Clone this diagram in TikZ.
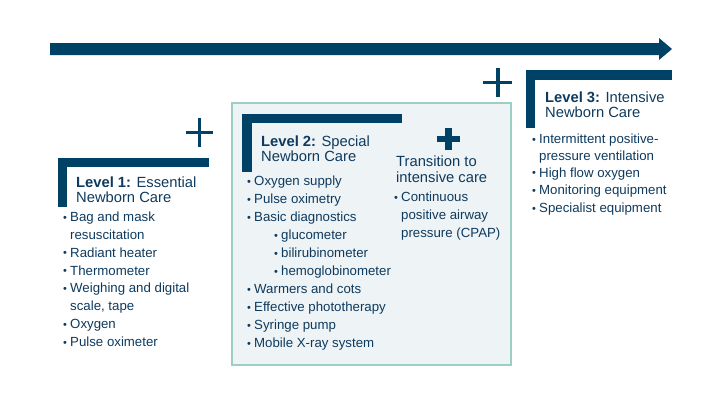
\documentclass[tikz,border=0pt]{standalone}
\usepackage{fontspec}
\setmainfont{Liberation Sans}
\definecolor{navy}{HTML}{004166}
\definecolor{txt}{HTML}{0E3A5E}
\definecolor{boxfill}{HTML}{EEF3F5}
\definecolor{boxline}{HTML}{9CCFC3}
\newcommand{\sbul}{\llap{{\fontsize{11}{11}\selectfont\raisebox{0.4pt}{\textbullet}}\hspace{3.2pt}}}
\tikzset{
  itm/.style={anchor=base west, inner sep=0pt, text=txt, font=\fontsize{13.3}{16}\selectfont},
  ttl/.style={anchor=base west, inner sep=0pt, text=txt, font=\fontsize{14.8}{16}\selectfont},
  bar/.style={fill=navy, draw=none},
  thinplus/.style={draw=navy, line width=4pt},
  thickplus/.style={draw=navy, line width=7pt},
}
\begin{document}
\begin{tikzpicture}[x=1bp,y=-1bp]
\useasboundingbox (0,0) rectangle (720,405);
% arrow
\fill[navy] (50,43) -- (659,43) -- (659,38) -- (672,49) -- (659,60) -- (659,55) -- (50,55) -- cycle;
% level 2 box
\draw[boxline, fill=boxfill, line width=1.5pt] (232,103) rectangle (511,365);
% brackets
\fill[bar] (58,158) rectangle (209,167);
\fill[bar] (58,158) rectangle (67,207);
\fill[bar] (242,114) rectangle (402,123);
\fill[bar] (242,114) rectangle (252,172);
\fill[bar] (526,70) rectangle (672,80);
\fill[bar] (526,70) rectangle (535,128);
% plus signs
\draw[thinplus] (186,132.5) -- (213,132.5) (199.5,118) -- (199.5,147);
\draw[thinplus] (483,82.5) -- (512,82.5) (497.5,68) -- (497.5,97);
\draw[thickplus] (437,139) -- (460,139) (448.5,128) -- (448.5,150);
% Level 1
\node[ttl] (l1a) at (76,187) {\textbf{Level 1:} Essential};
\node[ttl] (l1b) at (76,202.5) {Newborn Care};
\node[itm] (l1c) at (70,221.5) {\sbul Bag and mask};
\node[itm] (l1d) at (70,239.3) {resuscitation};
\node[itm] (l1e) at (70,257.2) {\sbul Radiant heater};
\node[itm] (l1f) at (70,275) {\sbul Thermometer};
\node[itm] (l1g) at (70,292.9) {\sbul Weighing and digital};
\node[itm] (l1h) at (70,310.7) {scale, tape};
\node[itm] (l1i) at (70,328.6) {\sbul Oxygen};
\node[itm] (l1j) at (70,346.4) {\sbul Pulse oximeter};
% Level 2
\node[ttl] (l2a) at (261,146) {\textbf{Level 2:} Special};
\node[ttl] (l2b) at (261,161.5) {Newborn Care};
\node[itm] (l2c) at (254,185.5) {\sbul Oxygen supply};
\node[itm] (l2d) at (254,203.5) {\sbul Pulse oximetry};
\node[itm] (l2e) at (254,221.5) {\sbul Basic diagnostics};
\node[itm] (l2f) at (281,239.5) {\sbul glucometer};
\node[itm] (l2g) at (281,257.5) {\sbul bilirubinometer};
\node[itm] (l2h) at (281,275.5) {\sbul hemoglobinometer};
\node[itm] (l2i) at (254,293.5) {\sbul Warmers and cots};
\node[itm] (l2j) at (254,311.5) {\sbul Effective phototherapy};
\node[itm] (l2k) at (254,329.5) {\sbul Syringe pump};
\node[itm] (l2l) at (254,347.5) {\sbul Mobile X-ray system};
% Transition
\node[ttl] (tra) at (396,166) {Transition to};
\node[ttl] (trb) at (396,182) {intensive care};
\node[itm] (trc) at (401,201.5) {\sbul Continuous};
\node[itm] (trd) at (401,219.5) {positive airway};
\node[itm] (tre) at (401,237.5) {pressure (CPAP)};
% Level 3
\node[ttl] (l3a) at (545,102) {\textbf{Level 3:} Intensive};
\node[ttl] (l3b) at (545,117.5) {Newborn Care};
\node[itm] (l3c) at (539,143.5) {\sbul Intermittent positive-};
\node[itm] (l3d) at (539,160) {pressure ventilation};
\node[itm] (l3e) at (539,177) {\sbul High flow oxygen};
\node[itm] (l3f) at (539,194.5) {\sbul Monitoring equipment};
\node[itm] (l3g) at (539,212.5) {\sbul Specialist equipment};
\end{tikzpicture}
\end{document}
